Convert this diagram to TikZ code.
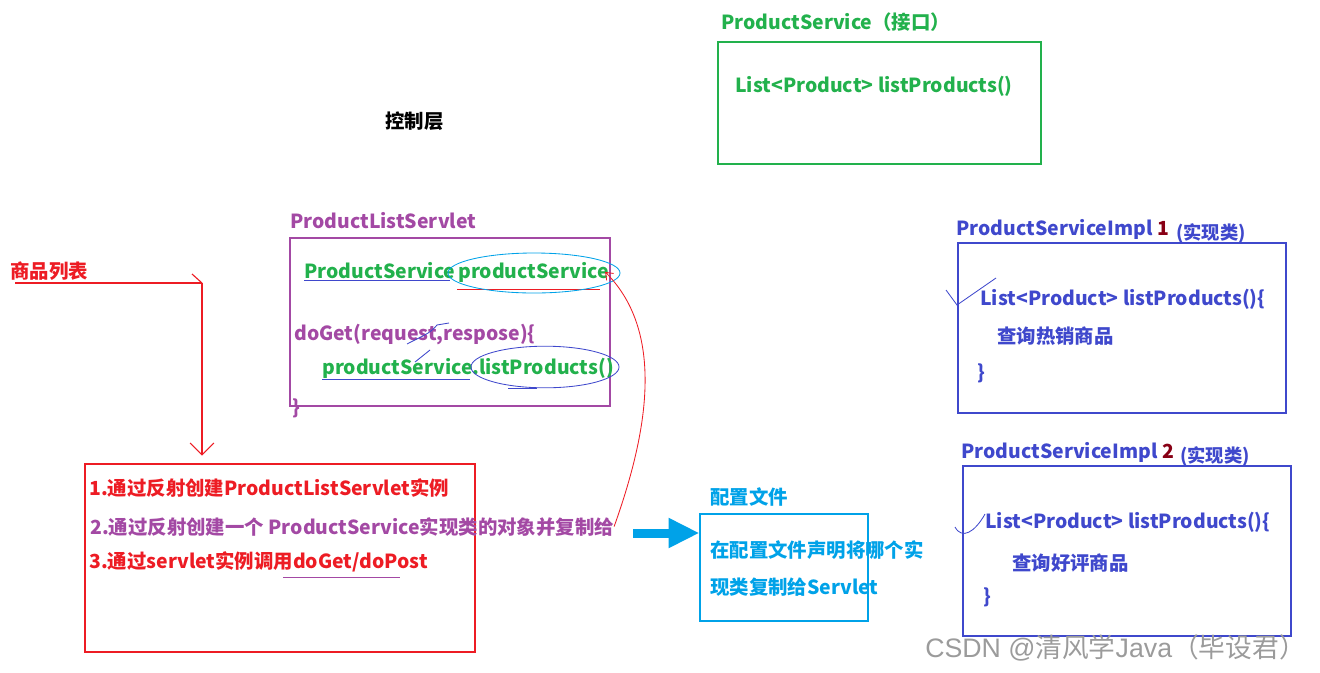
\documentclass[tikz,border=0pt]{standalone}
\usepackage{fontspec}
\setmainfont{Noto Sans CJK SC}
\newfontfamily\wmlatin{Liberation Sans}
\usetikzlibrary{arrows.meta,fit,positioning}

\definecolor{grn}{RGB}{34,177,76}
\definecolor{purp}{RGB}{163,73,164}
\definecolor{rd}{RGB}{237,28,36}
\definecolor{cyn}{RGB}{0,162,232}
\definecolor{implblue}{RGB}{63,72,204}
\definecolor{darkred}{RGB}{136,0,21}
\definecolor{wmgray}{RGB}{155,155,155}

\begin{document}
\begin{tikzpicture}[x=0.025cm,y=-0.025cm,
  txt/.style={anchor=base west,inner sep=0pt,font=\fontsize{13.8pt}{16pt}\selectfont\bfseries},
  small/.style={txt,font=\fontsize{13pt}{15pt}\selectfont\bfseries},
  frame/.style={draw,inner sep=0pt,line width=.8pt},
  scrib/.style={line width=.6pt}]
\useasboundingbox (0,0) rectangle (1320,672);
% interface
\node[txt,text=grn] (svcT) at (721,29) {ProductService（接口）};
\node[frame,draw=grn,fit={(718,42)(1041,164)}] (svc) {};
\node[txt,text=grn] (svcM) at (735,92) {List<Product> listProducts()};
\node[txt] (ctl) at (385,128) {控制层};
% servlet
\node[txt,text=purp] (srvT) at (290,228) {ProductListServlet};
\node[frame,draw=purp,fit={(290,238)(610,406)}] (srv) {};
\node[txt,text=grn] (psType) at (304,278) {ProductService};
\node[txt,text=grn] (psVar) at (458,278) {productService};
\node[txt,text=purp] (doget) at (294,340) {doGet(request,respose)\{};
\node[txt,text=grn] (callVar) at (322,374) {productService};
\node[txt,text=grn] (callM) at (472,374) {.listProducts()};
\node[txt,text=purp] (close) at (292,414) {\}};
\draw[implblue,scrib] (psType.base west) ++(0,2) -- (450,280);
\draw[rd,scrib] (457,289) -- (600,289);
\draw[cyn,scrib] (534,273) ellipse [x radius=2.15cm,y radius=0.5cm];
\draw[implblue,scrib] (callVar.base west) ++(0,5) -- (470,379);
\draw[implblue,scrib] (545,367) ellipse [x radius=1.85cm,y radius=0.52cm];
\draw[implblue,scrib] (508,388) -- (537,388);
\draw[implblue,scrib] (407,344) .. controls (420,337) and (430,334) .. (437,325) -- (449,323);
\draw[implblue,scrib] (415,362) -- (430,350);
% request
\node[txt,text=rd] (lst) at (10,278) {商品列表};
\coordinate (turn) at (202,283);
\node[frame,draw=rd,fit={(85,464)(475,652)}] (req) {};
\draw[rd,line width=.8pt] (lst.base west) ++(5,5) -- (turn);
\draw[rd,line width=.8pt] (turn) -- ++(-10,-9);
\draw[rd,line width=.8pt,-{Straight Barb[length=8.5pt,width=17pt]},shorten >=5.5pt] (turn) -- (turn |- req.north);
\node[txt,text=rd] (t1) at (89,495) {1.通过反射创建ProductListServlet实例};
\node[txt,text=purp] (t2) at (90,534) {2.通过反射创建一个 ProductService实现类的对象并复制给};
\node[txt,text=rd] (t3) at (89,568) {3.通过servlet实例调用doGet/doPost};
\draw[purp,scrib] (283,577) -- (400,577);
\draw[rd,scrib,-{Straight Barb[length=4.5pt,width=7pt]}] (t2.east) .. controls (645,440) and (668,335) .. ([xshift=-0.1cm]psVar.east);
% config
\node[txt,text=cyn] (cfgT) at (710,504) {配置文件};
\node[frame,draw=cyn,fit={(700,514)(868,621)}] (cfg) {};
\node[txt,text=cyn] (cfgA) at (710,557) {在配置文件声明将哪个实};
\node[txt,text=cyn] (cfgB) at (710,594) {现类复制给Servlet};
\coordinate (blue0) at (633,533);
\draw[cyn,line width=6.4pt,-{Triangle[length=22pt,width=20pt]}] (blue0) -- (blue0 -| cfg.west);
% impl 1
\node[txt,text=implblue] (impAt) at (956,235) {ProductServiceImpl \textcolor{darkred}{1}};
\node[small,text=implblue] (impAs) at (1176,239) {(实现类)};
\node[frame,draw=implblue,fit={(958,243)(1286,413)}] (impA) {};
\node[txt,text=implblue] (impAm) at (980,305) {List<Product> listProducts()\{};
\node[txt,text=implblue] (impAb) at (997,343) {查询热销商品};
\node[txt,text=implblue] (impAc) at (977,379) {\}};
\draw[implblue,scrib] (946,290) -- (957,305) -- (996,278);
% impl 2
\node[txt,text=implblue] (impBt) at (961,458) {ProductServiceImpl \textcolor{darkred}{2}};
\node[small,text=implblue] (impBs) at (1180,462) {(实现类)};
\node[frame,draw=implblue,fit={(963,466)(1291,636)}] (impB) {};
\node[txt,text=implblue] (impBm) at (985,528) {List<Product> listProducts()\{};
\node[txt,text=implblue] (impBb) at (1012,570) {查询好评商品};
\node[txt,text=implblue] (impBc) at (983,603) {\}};
\draw[implblue,scrib] (955,527) .. controls (962,540) and (975,532) .. (985,514);
% watermark
\node[anchor=base east,inner sep=0pt,text=wmgray,font=\fontsize{19pt}{21pt}\selectfont] (wm) at (1306,657) {{\wmlatin CSDN @}清风学{\wmlatin Java}（毕设君）};
\end{tikzpicture}
\end{document}
